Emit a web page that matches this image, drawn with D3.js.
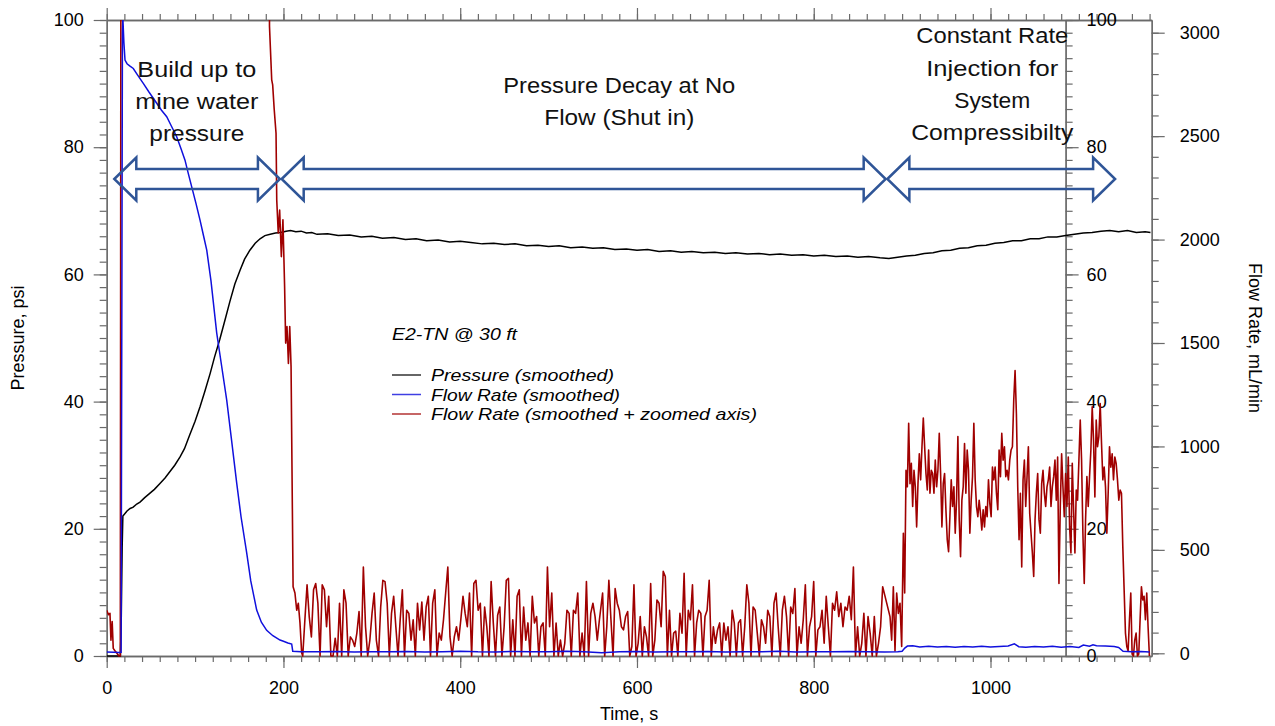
<!DOCTYPE html>
<html>
<head>
<meta charset="utf-8">
<script src="https://cdn.jsdelivr.net/npm/d3@7"></script>
<style>
body { margin: 0; background: #fff; }
svg { display: block; }
text { font-family: "Liberation Sans", Arial, sans-serif; }
</style>
</head>
<body>
<script>
// ---- data ----
// time, s ; pressure, psi
var pressurePts = [[0,0],[10,0],[15.5,0],[16.5,6],[17.5,17],[18.3,22.0],[20,22.3],[23,22.8],[26.5,23.2],[30,23.4],[34,23.9],[37.7,24.2],[43,24.9],[49,25.6],[54,26.2],[60,27.1],[66,28.0],[71.6,29.0],[77,30.0],[83,31.3],[88,32.6],[94,34.8],[100,36.9],[105.6,39.2],[111,41.6],[117,44.4],[122,47.0],[128,49.8],[134,52.9],[139.5,55.8],[145,58.5],[151,60.7],[156,62.4],[162,63.8],[168,64.9],[173.5,65.6],[179,66.1],[185,66.3],[191,66.5],[197,66.6],[203,66.8],[208,66.9],[214,66.7],[220,66.8],[226,66.5],[232,66.6],[238,66.3],[250,66.4],[262,66.1],[275,66.2],[288,65.9],[300,66.0],[312,65.7],[325,65.8],[338,65.5],[350,65.6],[362,65.3],[375,65.4],[388,65.1],[400,65.2],[412,65.0],[425,64.8],[438,64.9],[450,64.7],[462,64.8],[475,64.5],[488,64.6],[500,64.4],[512,64.5],[525,64.2],[538,64.3],[550,64.1],[562,64.2],[575,63.9],[588,64.0],[600,63.8],[612,63.9],[625,63.6],[638,63.7],[650,63.5],[662,63.6],[675,63.4],[688,63.5],[700,63.3],[712,63.4],[725,63.2],[738,63.3],[750,63.1],[762,63.2],[775,63.0],[788,63.1],[800,62.9],[812,63.0],[825,62.8],[838,62.9],[850,62.7],[862,62.8],[875,62.6],[885,62.5],[895,62.7],[905,62.9],[915,63.0],[925,63.3],[935,63.4],[945,63.7],[955,63.8],[965,64.1],[975,64.2],[985,64.5],[995,64.6],[1005,64.9],[1015,65.0],[1025,65.3],[1035,65.3],[1045,65.6],[1055,65.6],[1065,65.9],[1075,65.9],[1085,66.1],[1095,66.3],[1105,66.5],[1115,66.6],[1125,66.8],[1135,66.9],[1145,66.7],[1155,66.9],[1165,66.6],[1175,66.7],[1181,66.6]];

// time, s ; flow rate, mL/min (right axis)
var flowPts = [[0,6],[8,5],[14,4],[16.3,5],[17,1400],[17.8,3000],[18.3,3070],[19.5,2950],[20.7,2868],[23,2850],[26,2840],[30.1,2827],[35,2795],[41.4,2755],[48,2712],[56.6,2659],[62,2625],[67.9,2594],[73,2550],[79.2,2497],[84,2440],[88.6,2384],[92,2325],[96.2,2255],[101,2175],[105.6,2094],[110,2010],[113.2,1949],[118,1800],[124.5,1548],[130,1390],[135.8,1224],[141,1040],[147.1,823],[152,660],[158.4,485],[163,350],[169.7,209],[175,150],[181,111],[188,85],[196.1,64],[200,58],[205,50],[209.3,45],[210.5,10],[220,8],[240,7],[260,9],[280,6],[300,8],[320,7],[340,9],[360,6],[380,8],[400,10],[420,7],[440,6],[460,9],[480,7],[500,8],[520,10],[540,7],[560,3],[580,8],[600,9],[620,6],[640,8],[660,7],[680,9],[700,6],[720,8],[740,7],[760,10],[780,6],[800,8],[820,7],[840,9],[860,7],[880,6],[895,8],[900,10],[903,25],[906,35],[912,36],[920,30],[930,34],[940,30],[950,33],[960,29],[970,33],[980,30],[990,34],[1000,31],[1010,33],[1020,35],[1027,46],[1032,32],[1040,29],[1050,33],[1060,30],[1070,34],[1080,29],[1090,33],[1100,28],[1105,40],[1112,34],[1116,41],[1120,37],[1130,35],[1140,33],[1145,28],[1150,10],[1160,8],[1170,9],[1180,6]];

// zoomed flow rate (0-100 axis): start and drop as points, noisy parts as evenly spaced runs
var zoomFlowPts = [[0,7.2],[2,6.5],[3.7,6.7],[4.8,2.5],[6.2,5.4],[7.4,1.2],[9.5,0.8],[11.2,0.5],[13.8,0],[15.4,0],[16.4,165],[183.5,165],[184.2,99],[186.7,90.6],[187.8,89.8],[189.5,86],[191.6,82.2],[192.4,71.7],[194.1,66.5],[195.7,70.1],[197.6,62.8],[199.4,68.6],[201.3,58.1],[202.5,49.2],[204,51.8],[205.6,46],[207.1,51.8],[208.6,45.5],[210.9,10.9],[213,9.9],[215,7.2],[216.8,8.3],[218.7,5.2],[220.6,0.5]];
var shutInA = [0,5.7,11.2,6.2,3.0,10.4,11.4,8.3,0,11.2,10.4,4.6,9.4,0,0,2.8,0,8.3,0,10.4,8.3,0,3.0,2.5,1.5,3.6,7.0,0,14.0,4.6,0,2.5,6.7,9.9,2.5,0,7.7,11.9,11.7,8.3,0,6.7,9.4,4.6,0,5.7,10.4,0,7.2,6.7,2.5,5.7,0,8.3,4.1,8.5,2.5,7.7,9.4,0,8.3,10.4,0,3.6,2.5,5.7,9.9,14.0,3.0,0,3.0,4.6,2.5,5.7,9.4,6.7,4.6,9.9,0,11.4,11.9,7.2,8.3,0,7.7,4.6,0,11.7,5.2,0,6.4,7.7,0,4.6,11.9,12.2,0,5.7,0,9.4,10.4,0,7.7,2.5,5.2,0,9.4,5.2,6.2,0,4.6,5.2,0,14.0,4.6,9.9,0,5.2,0,2.5,0,2.0,7.2,6.7,0,7.2,6.7,9.9,0,3.6,0,11.7,0,6.7,8.3,6.2,2.5,5.7];
var shutInB = [9.9,0,4.6,11.9,5.7,0,10.6,8.3,7.2,4.6,4.1,6.2,7.0,0,1.5,11.2,0,2.0,6.2,0,4.6,3.0,0,11.4,0,2.5,8.8,8.3,4.6,13.3,12.5,0,7.2,0,3.6,3.9,0,6.7,3.6,13.0,0,7.2,5.7,11.2,0,5.2,7.2,6.7,0,6.2,7.2,11.9,0,4.6,2.0,4.1,5.2,0,5.2,2.5,4.6,0,7.2,5.2,0,5.2,5.7,0,4.6,11.2,8.3,0,7.7,7.2,3.6,0,5.7,4.6,2.0,7.2,6.2,0,8.3,9.9,4.6,0,7.2,9.4,6.2,0,7.7,6.7,10.6,0,4.6,2.0,5.7,11.2,0,4.6,6.2,11.7,0,4.1,4.6,7.2,2.0,9.4,4.6,0,8.3,7.2,10.1,6.2,8.3,4.6,7.7,7.2,9.4,5.7,14.0,0,4.6,0,2.0,6.7,0,6.2,3.6,0,6.2,0,2.0,4.6,10.9];
var preInject = [6.2,2.5,10.9,0.8,9.9,6.7,8.3,1.5];
var injection = [19.3,9.9,29.2,26.6,36.6,27.1,30.3,23.5,29.2,26.6,20.3,27.1,31.8,27.7,32.9,37.4,32.9,28.7,26.1,32.4,25.6,29.2,28.7,25.6,30.8,26.6,29.2,35.0,28.7,20.3,27.1,28.7,23.0,18.3,16.4,21.9,27.7,23.5,26.6,19.3,24.5,34.5,21.4,15.6,24.5,26.6,33.4,25.6,32.4,29.2,19.3,24.5,28.2,36.6,27.7,23.5,21.9,24.5,22.4,19.8,23.0,20.3,23.5,21.9,27.7,24.0,21.9,29.7,27.7,29.7,25.6,23.0,32.4,28.2,35.0,30.8,32.9,28.2,29.2,27.7,30.8,32.4,32.9,40.2,44.9,38.1,26.6,18.3,25.6,14.0,27.7,30.8,23.5,28.2,32.9,22.4,19.3,16.2,12.5,21.4,25.6,28.7,21.4,19.3,27.1,29.2,25.6,23.5,26.6,27.7,29.7,23.5,26.6,28.2,30.8,24.5,31.3,11.4,23.5,31.8,26.6,21.9,28.7,23.5,31.3,20.3,16.2,30.3,23.0,16.2,26.1,24.5,30.8,37.1,30.8,19.3,11.4,21.4,28.2,23.5,28.2,32.4,39.2,33.9,25.0,37.1,32.9,34.5,39.7,33.4,27.7,29.7,26.6,19.3,25.6,32.9,29.7,31.8,27.7,31.3,30.3,27.7,24.5,26.1,25.6,17.2,10.4,3.6,1.5,0.8,5.7,9.9,0.3,0,2.5,3.6,0,0.3,5.7,10.9,8.8,9.4,5.7,9.9,4.6,0];
// [start s, end s] of each evenly spaced run
var runs = [[shutInA, 221.8, 557.5], [shutInB, 561.1, 878.0], [preInject, 886.3, 899.5], [injection, 901.4, 1179.8]];

var xMajorTicks = [0, 200, 400, 600, 800, 1000];
var pressureTicks = [0, 20, 40, 60, 80, 100];
var flowTicks = [0, 500, 1000, 1500, 2000, 2500, 3000];

var phaseLabels = [["Build up to", "mine water", "pressure"],
                   ["Pressure Decay at No", "Flow (Shut in)"],
                   ["Constant Rate", "Injection for", "System", "Compressibilty"]];
var phaseFrom = [8.6, 198, 883.3];     // arrow ends, s
var phaseTo = [196, 881.4, 1141];
var phaseTextAt = [102, 580, 1002];    // text centre, s
var arrowLevel = 75;                   // psi

var legendTitle = "E2-TN @ 30 ft";
var legendNames = ["Pressure (smoothed)", "Flow Rate (smoothed)", "Flow Rate (smoothed + zoomed axis)"];

// ---- layout ----
var W = 1275, H = 726;
var L = 106.7, R = 1151.7, T = 20, B = 656;
var axisCol = "#6a6a6a";
var cBlack = "#000000", cBlue = "#1010dd", cRed = "#a00000";

var svg = d3.select("body").append("svg").attr("width", W).attr("height", H);

var x = d3.scaleLinear().domain([0, 1182.4]).range([L, R]);
var yP = d3.scaleLinear().domain([0, 100]).range([B, T]);
var yQ = d3.scaleLinear().domain([-13.05, 3061.4]).range([B, T]);
var fmt = d3.format("d");

function styleAxis(g) {
  g.selectAll("path.domain").attr("stroke", axisCol).attr("stroke-width", 1.3);
  g.selectAll(".tick line").attr("stroke", axisCol).attr("stroke-width", 1.2);
  g.selectAll(".tick text").attr("fill", "#000").attr("font-size", 18);
}

// bottom
var gb = svg.append("g").attr("transform", "translate(0," + B + ")");
gb.append("g").call(d3.axisBottom(x).tickValues(d3.range(0, 1181, 20)).tickSize(6).tickSizeOuter(0).tickFormat(""));
gb.append("g").call(d3.axisBottom(x).tickValues(xMajorTicks).tickSize(12).tickSizeOuter(0).tickPadding(13).tickFormat(fmt));
styleAxis(gb);
// top
var gt = svg.append("g").attr("transform", "translate(0," + T + ")");
gt.append("g").call(d3.axisTop(x).tickValues(d3.range(0, 1181, 20)).tickSize(6).tickSizeOuter(0).tickFormat(""));
gt.append("g").call(d3.axisTop(x).tickValues(xMajorTicks).tickSize(12).tickSizeOuter(0).tickFormat(""));
styleAxis(gt);
// left
var gl = svg.append("g").attr("transform", "translate(" + L + ",0)");
gl.append("g").call(d3.axisLeft(yP).tickValues(d3.range(0, 101, 2)).tickSize(7).tickSizeOuter(0).tickFormat(""));
gl.append("g").call(d3.axisLeft(yP).tickValues(pressureTicks).tickSize(13).tickSizeOuter(0).tickPadding(10).tickFormat(fmt));
styleAxis(gl);
// right, flow rate
var gr = svg.append("g").attr("transform", "translate(" + R + ",0)");
gr.append("g").call(d3.axisRight(yQ).tickValues(d3.range(0, 3001, 100)).tickSize(7).tickSizeOuter(0).tickFormat(""));
gr.append("g").call(d3.axisRight(yQ).tickValues(flowTicks).tickSize(13).tickSizeOuter(0).tickPadding(15).tickFormat(fmt));
styleAxis(gr);
// inner zoomed axis
var gz = svg.append("g").attr("transform", "translate(" + x(1085) + ",0)");
gz.append("g").call(d3.axisRight(yP).tickValues(d3.range(0, 101, 2)).tickSize(7).tickSizeOuter(0).tickFormat(""));
gz.append("g").call(d3.axisRight(yP).tickValues(pressureTicks).tickSize(13).tickSizeOuter(0).tickPadding(8).tickFormat(fmt));
styleAxis(gz);

// axis titles
svg.append("text").attr("x", (L + R) / 2).attr("y", 720).attr("text-anchor", "middle").attr("font-size", 18).text("Time, s");
svg.append("text").attr("transform", "translate(18,338) rotate(-90)").attr("dy", "0.35em")
  .attr("text-anchor", "middle").attr("font-size", 18).text("Pressure, psi");
svg.append("text").attr("transform", "translate(1255,338) rotate(90)").attr("dy", "0.35em")
  .attr("text-anchor", "middle").attr("font-size", 18).text("Flow Rate, mL/min");

// traces
svg.append("clipPath").attr("id", "plotClip").append("rect")
  .attr("x", L).attr("y", T).attr("width", R - L).attr("height", B - T + 1);
var traces = svg.append("g").attr("clip-path", "url(#plotClip)");

var redPts = zoomFlowPts.slice();
runs.forEach(function (r) {
  var vals = r[0], step = (r[2] - r[1]) / (vals.length - 1);
  vals.forEach(function (v, i) { redPts.push([r[1] + i * step, v]); });
});

var lineP = d3.line().x(function (d) { return x(d[0]); }).y(function (d) { return yP(d[1]); });
var lineQ = d3.line().x(function (d) { return x(d[0]); }).y(function (d) { return yQ(d[1]); });

traces.append("path").attr("d", lineP(pressurePts)).attr("fill", "none").attr("stroke", cBlack).attr("stroke-width", 1.5);
traces.append("path").attr("d", lineP(redPts)).attr("fill", "none").attr("stroke", cRed).attr("stroke-width", 1.6).attr("stroke-linejoin", "round");
traces.append("path").attr("d", lineQ(flowPts)).attr("fill", "none").attr("stroke", cBlue).attr("stroke-width", 1.5);

// legend
var lg = svg.append("g");
lg.append("text").attr("x", 392).attr("y", 340).attr("font-size", 17).attr("font-style", "italic")
  .attr("textLength", 125).attr("lengthAdjust", "spacingAndGlyphs").text(legendTitle);
var legendCols = [cBlack, cBlue, cRed];
var legendW = [183, 189, 326];
legendNames.forEach(function (n, i) {
  var by = 381 + i * 19.5;
  lg.append("line").attr("x1", 392).attr("x2", 421).attr("y1", by - 6).attr("y2", by - 6)
    .attr("stroke", legendCols[i]).attr("stroke-width", 1.5).attr("opacity", 0.8);
  lg.append("text").attr("x", 431).attr("y", by).attr("font-size", 16.5).attr("font-style", "italic")
    .attr("textLength", legendW[i]).attr("lengthAdjust", "spacingAndGlyphs").text(n);
});

// phase arrows and notes
var arrowCol = "#2f5597";
var hl = 22, hh = 21.5, sh = 10;
phaseFrom.forEach(function (t0, i) {
  var a = x(t0), b = x(phaseTo[i]), c = yP(arrowLevel);
  var p = [[a, c], [a + hl, c - hh], [a + hl, c - sh], [b - hl, c - sh], [b - hl, c - hh], [b, c],
           [b - hl, c + hh], [b - hl, c + sh], [a + hl, c + sh], [a + hl, c + hh]];
  svg.append("path").attr("d", "M" + p.join("L") + "Z").attr("fill", "none")
    .attr("stroke", arrowCol).attr("stroke-width", 2.5).attr("stroke-linejoin", "miter");
});

var noteBase = [[77, 109, 141], [93, 125], [43, 76, 108, 140]];
var noteW = [[119, 123, 95], [232, 150], [152, 132, 76, 162]];
phaseLabels.forEach(function (lines, i) {
  lines.forEach(function (s, j) {
    svg.append("text").attr("x", x(phaseTextAt[i])).attr("y", noteBase[i][j])
      .attr("text-anchor", "middle").attr("font-family", "Lato, 'Open Sans', sans-serif").attr("font-size", 22)
      .attr("fill", "#111").attr("textLength", noteW[i][j]).attr("lengthAdjust", "spacingAndGlyphs").text(s);
  });
});
</script>
</body>
</html>
